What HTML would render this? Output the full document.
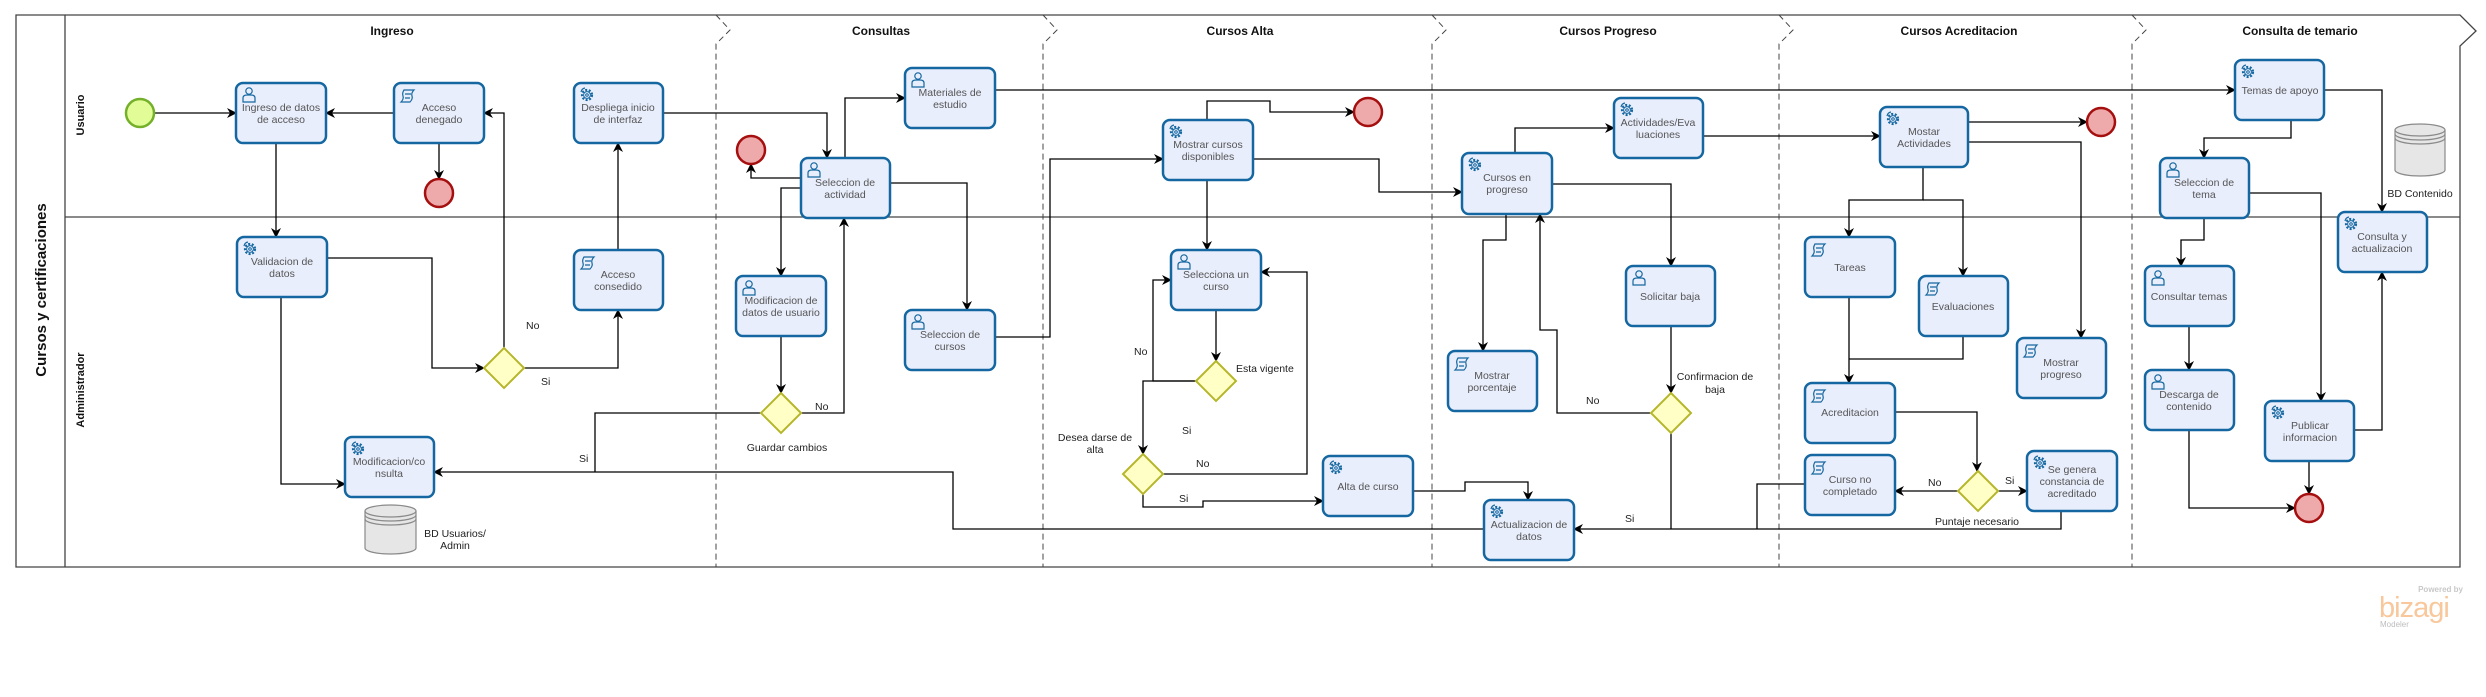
<!DOCTYPE html>
<html><head><meta charset="utf-8"><style>
html,body{margin:0;padding:0;background:#fff;}
svg{display:block;}
.t{font-family:"Liberation Sans",sans-serif;font-size:10.5px;fill:#555;text-anchor:middle;}
.l{font-family:"Liberation Sans",sans-serif;font-size:10.5px;fill:#222;}
.h{font-family:"Liberation Sans",sans-serif;font-size:12px;font-weight:bold;fill:#111;text-anchor:middle;}
.task{fill:#e9eefc;stroke:#1467a0;stroke-width:2.5;}
.c{fill:none;stroke:#000;stroke-width:1.3;marker-end:url(#ar);}
.n{fill:none;stroke:#000;stroke-width:1.3;}
.gw{fill:#ffffc6;stroke:#b6b62c;stroke-width:2;}
.end{fill:#eeaaaa;stroke:#a50f0f;stroke-width:2.5;}
.dash{stroke:#444;stroke-width:1;stroke-dasharray:6,4;fill:none;}
.ic{fill:none;stroke:#1467a0;stroke-width:1.2;}
</style></head><body>
<svg width="2486" height="697" viewBox="0 0 2486 697" xmlns="http://www.w3.org/2000/svg">
<defs>
<marker id="ar" markerWidth="10" markerHeight="10" refX="9" refY="5" orient="auto" markerUnits="userSpaceOnUse">
<path d="M0,0 L10,5 L0,10 L3,5 z" fill="#000"/></marker>
<g id="gear"><circle cx="8" cy="9" r="5" fill="none" stroke="#1467a0" stroke-width="2.2" stroke-dasharray="2,1.6"/><circle cx="8" cy="9" r="3.4" fill="#e9eefc" stroke="#1467a0" stroke-width="1"/><circle cx="8" cy="9" r="1.3" fill="none" stroke="#1467a0" stroke-width="1"/><path d="M2,6 A5,5 0 0 1 6,2" fill="none" stroke="#1467a0" stroke-width="1.2"/></g>
<g id="user"><circle cx="8" cy="6" r="3.2" class="ic"/><path d="M2,17 L2,13 Q2,10 6,10 L10,10 Q14,10 14,13 L14,17 Z" class="ic"/></g>
<g id="script"><path d="M4,3 L14,3 Q11,6 12,9 Q13,12 10,15 L1,15 Q4,12 3,9 Q2,6 4,3 Z" class="ic" stroke-width="1.4"/><path d="M5,7 L11,7 M5,11 L10,11" class="ic"/></g>
</defs>

<!-- pool -->
<path d="M16,15 L2460,15 L2476,31 L2460,46 L2460,567 L16,567 Z" fill="none" stroke="#444" stroke-width="1.3"/>
<line x1="65" y1="15" x2="65" y2="567" stroke="#444" stroke-width="1.3"/>
<line x1="65" y1="217" x2="2460" y2="217" stroke="#444" stroke-width="1.3"/>
<text transform="translate(46,290) rotate(-90)" style="font-family:'Liberation Sans',sans-serif;font-size:15px;font-weight:bold;fill:#111;text-anchor:middle">Cursos y certificaciones</text>
<text transform="translate(84,115) rotate(-90)" style="font-family:'Liberation Sans',sans-serif;font-size:11px;font-weight:bold;fill:#111;text-anchor:middle">Usuario</text>
<text transform="translate(84,390) rotate(-90)" style="font-family:'Liberation Sans',sans-serif;font-size:11px;font-weight:bold;fill:#111;text-anchor:middle">Administrador</text>

<!-- phase separators -->
<g class="dash">
<path d="M716,15 L730,30 L716,44 L716,567"/>
<path d="M1043,15 L1057,30 L1043,44 L1043,567"/>
<path d="M1432,15 L1446,30 L1432,44 L1432,567"/>
<path d="M1779,15 L1793,30 L1779,44 L1779,567"/>
<path d="M2132,15 L2146,30 L2132,44 L2132,567"/>
</g>
<text class="h" x="392" y="35">Ingreso</text>
<text class="h" x="881" y="35">Consultas</text>
<text class="h" x="1240" y="35">Cursos Alta</text>
<text class="h" x="1608" y="35">Cursos Progreso</text>
<text class="h" x="1959" y="35">Cursos Acreditacion</text>
<text class="h" x="2300" y="35">Consulta de temario</text>

<!-- connectors -->
<polyline class="c" points="154,113 236,113"/>
<polyline class="c" points="394,113 326,113"/>
<polyline class="c" points="439,143 439,179"/>
<polyline class="c" points="276,143 276,237"/>
<polyline class="c" points="327,258 432,258 432,368 484,368"/>
<polyline class="c" points="504,348 504,113 484,113"/>
<polyline class="c" points="524,368 618,368 618,310"/>
<polyline class="c" points="618,250 618,143"/>
<polyline class="c" points="663,113 827,113 827,158"/>
<polyline class="c" points="281,297 281,484 345,484"/>
<polyline class="n" points="761,413 595,413 595,472"/>
<polyline class="c" points="1484,529 953,529 953,472 434,472"/>
<polyline class="c" points="801,178 751,178 751,164"/>
<polyline class="c" points="845,158 845,98 905,98"/>
<polyline class="c" points="801,188 781,188 781,276"/>
<polyline class="c" points="890,183 967,183 967,310"/>
<polyline class="c" points="781,336 781,393"/>
<polyline class="c" points="801,413 844,413 844,218"/>
<polyline class="c" points="995,90 2235,90"/>
<polyline class="c" points="995,337 1050,337 1050,159 1163,159"/>
<polyline class="c" points="1207,120 1207,101 1270,101 1270,112 1354,112"/>
<polyline class="c" points="1253,159 1379,159 1379,192 1462,192"/>
<polyline class="c" points="1207,180 1207,250"/>
<polyline class="c" points="1216,310 1216,361"/>
<polyline class="c" points="1196,381 1153,381 1153,280 1171,280"/>
<polyline class="c" points="1196,381 1143,381 1143,454"/>
<polyline class="c" points="1163,474 1307,474 1307,272 1261,272"/>
<polyline class="c" points="1143,494 1143,507 1203,507 1203,501 1323,501"/>
<polyline class="c" points="1413,491 1465,491 1465,482 1528,482 1528,500"/>
<polyline class="c" points="1515,153 1515,128 1614,128"/>
<polyline class="c" points="1703,136 1880,136"/>
<polyline class="c" points="1552,184 1671,184 1671,266"/>
<polyline class="c" points="1506,214 1506,240 1483,240 1483,351"/>
<polyline class="c" points="1671,326 1671,393"/>
<polyline class="c" points="1651,413 1557,413 1557,330 1540,330 1540,214"/>
<polyline class="n" points="1671,433 1671,529"/>
<polyline class="c" points="2061,511 2061,529 1574,529"/>
<polyline class="n" points="1805,484 1757,484 1757,529"/>
<polyline class="c" points="1968,122 2087,122"/>
<polyline class="c" points="1968,142 2081,142 2081,338"/>
<polyline class="c" points="1923,167 1923,200 1849,200 1849,237"/>
<polyline class="c" points="1923,200 1963,200 1963,276"/>
<polyline class="c" points="1849,297 1849,383"/>
<polyline class="n" points="1963,336 1963,359 1849,359"/>
<polyline class="c" points="1895,412 1977,412 1977,471"/>
<polyline class="c" points="1958,491 1895,491"/>
<polyline class="c" points="1998,491 2027,491"/>
<polyline class="c" points="2291,120 2291,138 2204,138 2204,158"/>
<polyline class="c" points="2324,90 2382,90 2382,212"/>
<polyline class="c" points="2249,193 2321,193 2321,401"/>
<polyline class="c" points="2204,218 2204,240 2181,240 2181,266"/>
<polyline class="c" points="2189,326 2189,370"/>
<polyline class="c" points="2189,430 2189,508 2295,508"/>
<polyline class="c" points="2309,461 2309,494"/>
<polyline class="c" points="2354,430 2382,430 2382,272"/>

<!-- events -->
<circle cx="140" cy="113" r="14" fill="#e2fd98" stroke="#74b02a" stroke-width="2.5"/>
<circle class="end" cx="439" cy="193" r="14"/>
<circle class="end" cx="751" cy="150" r="14"/>
<circle class="end" cx="1368" cy="112" r="14"/>
<circle class="end" cx="2101" cy="122" r="14"/>
<circle class="end" cx="2309" cy="508" r="14"/>

<!-- gateways -->
<polygon class="gw" points="504,348 524,368 504,388 484,368"/>
<polygon class="gw" points="781,393 801,413 781,433 761,413"/>
<polygon class="gw" points="1216,361 1236,381 1216,401 1196,381"/>
<polygon class="gw" points="1143,454 1163,474 1143,494 1123,474"/>
<polygon class="gw" points="1671,393 1691,413 1671,433 1651,413"/>
<polygon class="gw" points="1978,471 1998,491 1978,511 1958,491"/>

<!-- tasks -->
<g>
<rect class="task" x="236" y="83" width="90" height="60" rx="7"/><use href="#user" x="241" y="85"/><text class="t" x="281" y="111">Ingreso de datos</text><text class="t" x="281" y="123">de acceso</text>
<rect class="task" x="394" y="83" width="90" height="60" rx="7"/><use href="#script" x="400" y="87"/><text class="t" x="439" y="111">Acceso</text><text class="t" x="439" y="123">denegado</text>
<rect class="task" x="574" y="83" width="89" height="60" rx="7"/><use href="#gear" x="579" y="86"/><text class="t" x="618" y="111">Despliega inicio</text><text class="t" x="618" y="123">de interfaz</text>
<rect class="task" x="237" y="237" width="90" height="60" rx="7"/><use href="#gear" x="242" y="240"/><text class="t" x="282" y="265">Validacion de</text><text class="t" x="282" y="277">datos</text>
<rect class="task" x="574" y="250" width="89" height="60" rx="7"/><use href="#script" x="580" y="254"/><text class="t" x="618" y="278">Acceso</text><text class="t" x="618" y="290">consedido</text>
<rect class="task" x="345" y="437" width="89" height="60" rx="7"/><use href="#gear" x="350" y="440"/><text class="t" x="389" y="465">Modificacion/co</text><text class="t" x="389" y="477">nsulta</text>

<rect class="task" x="905" y="68" width="90" height="60" rx="7"/><use href="#user" x="910" y="70"/><text class="t" x="950" y="96">Materiales de</text><text class="t" x="950" y="108">estudio</text>
<rect class="task" x="801" y="158" width="89" height="60" rx="7"/><use href="#user" x="806" y="160"/><text class="t" x="845" y="186">Seleccion de</text><text class="t" x="845" y="198">actividad</text>
<rect class="task" x="736" y="276" width="90" height="60" rx="7"/><use href="#user" x="741" y="278"/><text class="t" x="781" y="304">Modificacion de</text><text class="t" x="781" y="316">datos de usuario</text>
<rect class="task" x="905" y="310" width="90" height="60" rx="7"/><use href="#user" x="910" y="312"/><text class="t" x="950" y="338">Seleccion de</text><text class="t" x="950" y="350">cursos</text>
<rect class="task" x="1163" y="120" width="90" height="60" rx="7"/><use href="#gear" x="1168" y="123"/><text class="t" x="1208" y="148">Mostrar cursos</text><text class="t" x="1208" y="160">disponibles</text>
<rect class="task" x="1171" y="250" width="90" height="60" rx="7"/><use href="#user" x="1176" y="252"/><text class="t" x="1216" y="278">Selecciona un</text><text class="t" x="1216" y="290">curso</text>
<rect class="task" x="1323" y="456" width="90" height="60" rx="7"/><use href="#gear" x="1328" y="459"/><text class="t" x="1368" y="490">Alta de curso</text>

<rect class="task" x="1462" y="153" width="90" height="61" rx="7"/><use href="#gear" x="1467" y="156"/><text class="t" x="1507" y="181">Cursos en</text><text class="t" x="1507" y="193">progreso</text>
<rect class="task" x="1614" y="98" width="89" height="60" rx="7"/><use href="#gear" x="1619" y="101"/><text class="t" x="1658" y="126">Actividades/Eva</text><text class="t" x="1658" y="138">luaciones</text>
<rect class="task" x="1626" y="266" width="89" height="60" rx="7"/><use href="#user" x="1631" y="268"/><text class="t" x="1670" y="300">Solicitar baja</text>
<rect class="task" x="1448" y="351" width="89" height="60" rx="7"/><use href="#script" x="1454" y="355"/><text class="t" x="1492" y="379">Mostrar</text><text class="t" x="1492" y="391">porcentaje</text>
<rect class="task" x="1484" y="500" width="90" height="60" rx="7"/><use href="#gear" x="1489" y="503"/><text class="t" x="1529" y="528">Actualizacion de</text><text class="t" x="1529" y="540">datos</text>

<rect class="task" x="1880" y="107" width="88" height="60" rx="7"/><use href="#gear" x="1885" y="110"/><text class="t" x="1924" y="135">Mostar</text><text class="t" x="1924" y="147">Actividades</text>
<rect class="task" x="1805" y="237" width="90" height="60" rx="7"/><use href="#script" x="1811" y="241"/><text class="t" x="1850" y="271">Tareas</text>
<rect class="task" x="1919" y="276" width="89" height="60" rx="7"/><use href="#script" x="1925" y="280"/><text class="t" x="1963" y="310">Evaluaciones</text>
<rect class="task" x="2017" y="338" width="89" height="60" rx="7"/><use href="#script" x="2023" y="342"/><text class="t" x="2061" y="366">Mostrar</text><text class="t" x="2061" y="378">progreso</text>
<rect class="task" x="1805" y="383" width="90" height="60" rx="7"/><use href="#script" x="1811" y="387"/><text class="t" x="1850" y="416">Acreditacion</text>
<rect class="task" x="1805" y="455" width="90" height="60" rx="7"/><use href="#script" x="1811" y="459"/><text class="t" x="1850" y="483">Curso no</text><text class="t" x="1850" y="495">completado</text>
<rect class="task" x="2027" y="451" width="90" height="60" rx="7"/><use href="#gear" x="2032" y="454"/><text class="t" x="2072" y="473">Se genera</text><text class="t" x="2072" y="485">constancia de</text><text class="t" x="2072" y="497">acreditado</text>

<rect class="task" x="2235" y="60" width="89" height="60" rx="7"/><use href="#gear" x="2240" y="63"/><text class="t" x="2280" y="94">Temas de apoyo</text>
<rect class="task" x="2160" y="158" width="89" height="60" rx="7"/><use href="#user" x="2165" y="160"/><text class="t" x="2204" y="186">Seleccion de</text><text class="t" x="2204" y="198">tema</text>
<rect class="task" x="2338" y="212" width="89" height="60" rx="7"/><use href="#gear" x="2343" y="215"/><text class="t" x="2382" y="240">Consulta y</text><text class="t" x="2382" y="252">actualizacion</text>
<rect class="task" x="2145" y="266" width="89" height="60" rx="7"/><use href="#user" x="2150" y="268"/><text class="t" x="2189" y="300">Consultar temas</text>
<rect class="task" x="2145" y="370" width="89" height="60" rx="7"/><use href="#user" x="2150" y="372"/><text class="t" x="2189" y="398">Descarga de</text><text class="t" x="2189" y="410">contenido</text>
<rect class="task" x="2265" y="401" width="89" height="60" rx="7"/><use href="#gear" x="2270" y="404"/><text class="t" x="2310" y="429">Publicar</text><text class="t" x="2310" y="441">informacion</text>
</g>

<!-- data stores -->
<g fill="#e6e6e6" stroke="#8a8a8a" stroke-width="1.2">
<path d="M365,511 L365,548 A25.5,6 0 0 0 416,548 L416,511"/>
<ellipse cx="390.5" cy="511" rx="25.5" ry="6"/>
<path d="M365,515 A25.5,6 0 0 0 416,515 M365,519 A25.5,6 0 0 0 416,519" fill="none"/>
<path d="M2395,130 L2395,170 A25,6 0 0 0 2445,170 L2445,130"/>
<ellipse cx="2420" cy="130" rx="25" ry="6"/>
<path d="M2395,134 A25,6 0 0 0 2445,134 M2395,138 A25,6 0 0 0 2445,138" fill="none"/>
</g>

<!-- labels -->
<text class="l" x="526" y="329">No</text>
<text class="l" x="541" y="385">Si</text>
<text class="l" x="579" y="462">Si</text>
<text class="l" x="815" y="410">No</text>
<text class="l" x="787" y="451" text-anchor="middle">Guardar cambios</text>
<text class="l" x="1134" y="355">No</text>
<text class="l" x="1236" y="372">Esta vigente</text>
<text class="l" x="1182" y="434">Si</text>
<text class="l" x="1095" y="441" text-anchor="middle">Desea darse de</text>
<text class="l" x="1095" y="453" text-anchor="middle">alta</text>
<text class="l" x="1196" y="467">No</text>
<text class="l" x="1179" y="502">Si</text>
<text class="l" x="1586" y="404">No</text>
<text class="l" x="1715" y="380" text-anchor="middle">Confirmacion de</text>
<text class="l" x="1715" y="393" text-anchor="middle">baja</text>
<text class="l" x="1625" y="522">Si</text>
<text class="l" x="1928" y="486">No</text>
<text class="l" x="2005" y="484">Si</text>
<text class="l" x="1977" y="525" text-anchor="middle">Puntaje necesario</text>
<text class="l" x="455" y="537" text-anchor="middle">BD Usuarios/</text>
<text class="l" x="455" y="549" text-anchor="middle">Admin</text>
<text class="l" x="2420" y="197" text-anchor="middle">BD Contenido</text>

<!-- logo -->
<text x="2463" y="592" style="font-family:'Liberation Sans',sans-serif;font-size:8px;font-weight:bold;fill:#c8c8c8;text-anchor:end">Powered by</text>
<text x="2379" y="617" style="font-family:'Liberation Sans',sans-serif;font-size:29px;fill:#f8c89c;letter-spacing:-1px">bizagi</text>
<text x="2380" y="627" style="font-family:'Liberation Sans',sans-serif;font-size:8px;fill:#bdbdbd">Modeler</text>
</svg>
</body></html>
